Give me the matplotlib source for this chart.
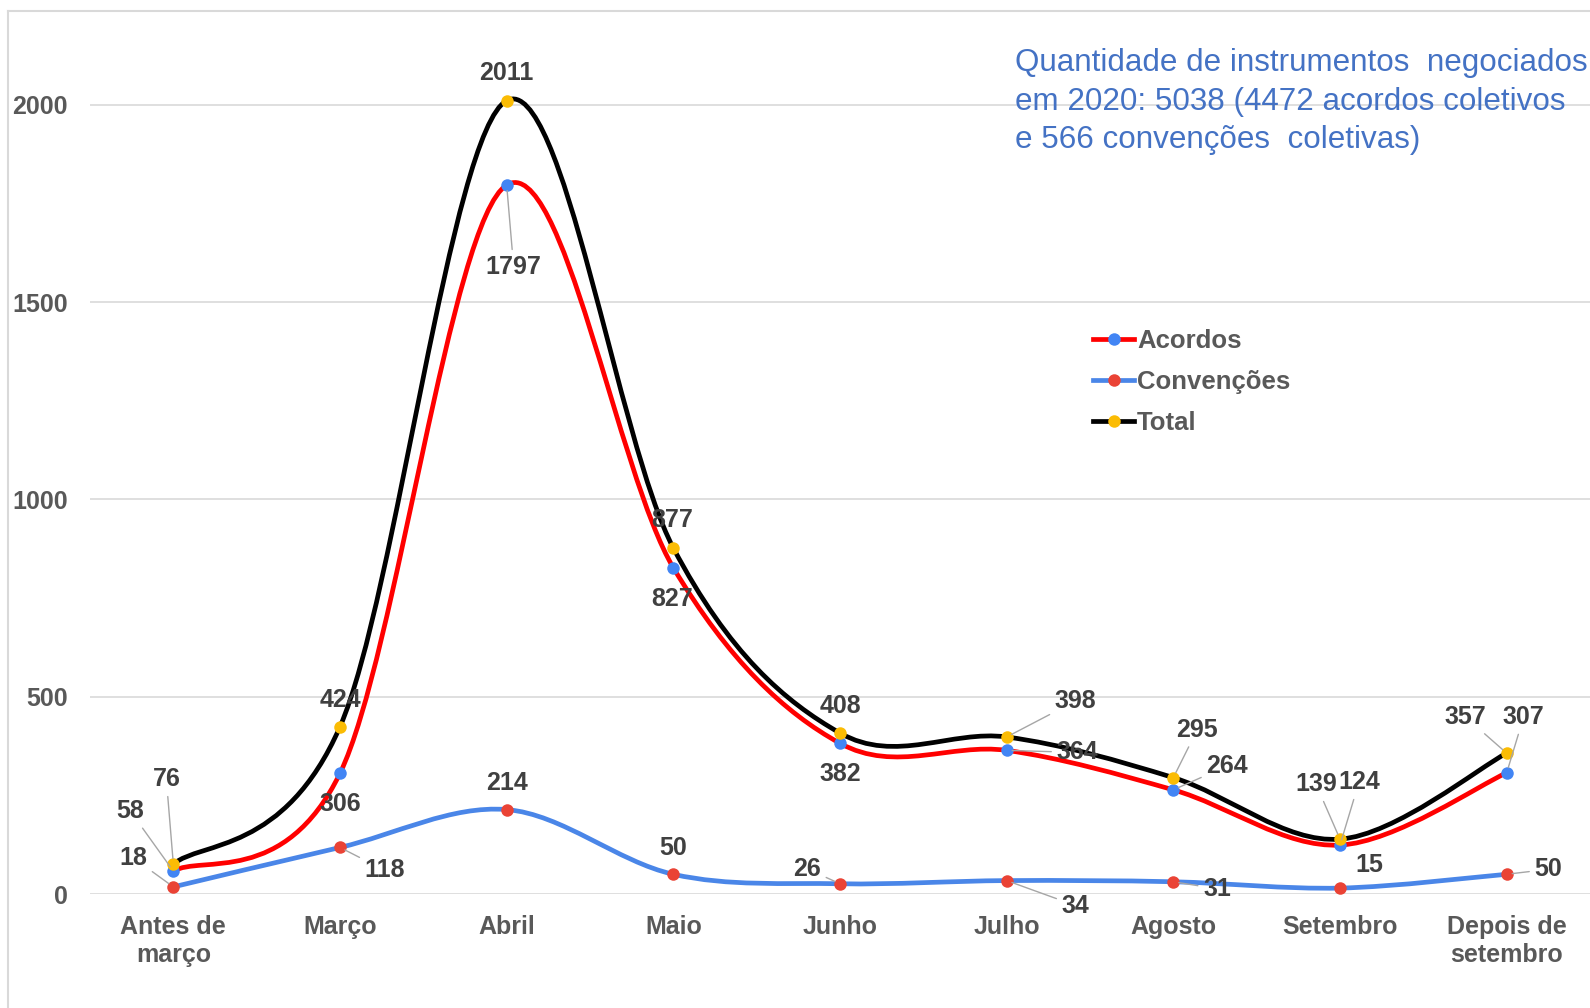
import matplotlib
matplotlib.use("Agg")
import matplotlib.pyplot as plt
from matplotlib.path import Path
from matplotlib.patches import PathPatch
from matplotlib.lines import Line2D

plt.rcParams['font.family'] = ['Liberation Sans', 'DejaVu Sans']

# dados
meses = ["Antes de\nmarço", "Março", "Abril", "Maio", "Junho", "Julho",
         "Agosto", "Setembro", "Depois de\nsetembro"]
acordos = [58, 306, 1797, 827, 382, 364, 264, 124, 307]
convencoes = [18, 118, 214, 50, 26, 34, 31, 15, 50]
total = [76, 424, 2011, 877, 408, 398, 295, 139, 357]
titulo = ("Quantidade de instrumentos  negociados\n"
          "em 2020: 5038 (4472 acordos coletivos\n"
          "e 566 convenções  coletivas)")

# deslocamentos dos rótulos (px) e se têm linha de chamada
off_acordos = [(-43, 60), (0, -31), (7, -82), (-1, -31), (0, -31),
               (71, -2), (54, 24), (19, 63), (17, 56)]
lead_acordos = [1, 0, 1, 0, 0, 1, 1, 1, 1]
off_conv = [(-40, 29), (45, -23), (0, 27), (0, 26), (-33, 15),
            (69, -25), (44, -7), (29, 23), (42, 5)]
lead_conv = [1, 1, 0, 0, 1, 1, 1, 0, 1]
off_total = [(-7, 85), (0, 27), (0, 28), (-1, 28), (0, 27),
             (69, 36), (24, 48), (-24, 55), (-41, 36)]
lead_total = [1, 0, 0, 0, 0, 1, 1, 1, 1]

VERMELHO = "#FF0000"
AZUL = "#4A86E8"
VERM_MK = "#EA4335"
AZUL_MK = "#4285F4"
AMARELO = "#FBBC04"
CINZA_TXT = "#595959"
CINZA_LBL = "#404040"
GRADE = "#D9D9D9"
FS = 18


def smooth_path(vals):
    """Curva suave estilo Excel (Bezier cúbica, Catmull-Rom 1/6)."""
    pts = list(enumerate(vals))
    n = len(pts)
    verts = [pts[0]]
    codes = [Path.MOVETO]
    for i in range(n - 1):
        p0 = pts[max(i - 1, 0)]
        p1 = pts[i]
        p2 = pts[i + 1]
        p3 = pts[min(i + 2, n - 1)]
        c1 = (p1[0] + (p2[0] - p0[0]) / 6, p1[1] + (p2[1] - p0[1]) / 6)
        c2 = (p2[0] - (p3[0] - p1[0]) / 6, p2[1] - (p3[1] - p1[1]) / 6)
        verts += [c1, c2, p2]
        codes += [Path.CURVE4] * 3
    return Path(verts, codes)


fig = plt.figure(figsize=(15.9, 10.08), dpi=100)
ax = fig.add_axes([90 / 1590, 114 / 1008, 1500 / 1590, 894 / 1008])
ax.set_xlim(-0.5, 8.5)
ax.set_ylim(0, 2266)

# moldura do gráfico
fig.add_artist(Line2D([8 / 1590, 8 / 1590], [0, 1 - 11 / 1008],
                      transform=fig.transFigure, color=GRADE, lw=1.5))
fig.add_artist(Line2D([8 / 1590, 1], [1 - 11 / 1008, 1 - 11 / 1008],
                      transform=fig.transFigure, color=GRADE, lw=1.5))

for s in ax.spines.values():
    s.set_visible(False)
ax.set_yticks([0, 500, 1000, 1500, 2000])
ax.yaxis.grid(True, color=GRADE, lw=1.2)
ax.set_axisbelow(True)
ax.tick_params(length=0)
ax.tick_params(axis='y', pad=16)
ax.tick_params(axis='x', pad=15)
ax.set_yticklabels([str(t) for t in [0, 500, 1000, 1500, 2000]],
                   fontsize=FS, fontweight='bold', color=CINZA_TXT)
ax.set_xticks(range(len(meses)))
ax.set_xticklabels(meses, fontsize=FS, fontweight='bold', color=CINZA_TXT,
                   linespacing=1.2)

series = [
    ("Acordos", acordos, VERMELHO, AZUL_MK, off_acordos, lead_acordos),
    ("Convenções", convencoes, AZUL, VERM_MK, off_conv, lead_conv),
    ("Total", total, "black", AMARELO, off_total, lead_total),
]

handles = []
for k, (nome, vals, cor, cor_mk, offs, leads) in enumerate(series):
    ax.add_patch(PathPatch(smooth_path(vals), fill=False, edgecolor=cor,
                           lw=3.4, zorder=3 + k * 2, capstyle='round'))
    ax.plot(range(len(vals)), vals, 'o', color=cor_mk, ms=9, mec='none',
            zorder=4 + k * 2)
    handles.append(Line2D([], [], color=cor, lw=3.4, marker='o', ms=9,
                          mfc=cor_mk, mec='none'))
    for i, v in enumerate(vals):
        ap = None
        if leads[i]:
            ap = dict(arrowstyle='-', color='#A6A6A6', lw=1.0,
                      shrinkA=2, shrinkB=4)
        ax.annotate(str(v), (i, v), xytext=offs[i], textcoords='offset pixels',
                    ha='center', va='center', fontsize=FS, fontweight='bold',
                    color=CINZA_LBL, arrowprops=ap, zorder=10)

fig.legend(handles, [s[0] for s in series], loc='upper left',
           bbox_to_anchor=(1093 / 1590, 1 - 329 / 1008), frameon=False,
           borderpad=0, borderaxespad=0, handlelength=1.6, handletextpad=0.12,
           labelspacing=0.66, prop=dict(size=18.5, weight='bold'),
           labelcolor=CINZA_TXT)

fig.text(1015 / 1590, 1 - 48 / 1008, titulo, fontsize=22.6, color="#4472C4",
         ha='left', va='top', linespacing=1.38)

fig.savefig("out.png", dpi=100)
